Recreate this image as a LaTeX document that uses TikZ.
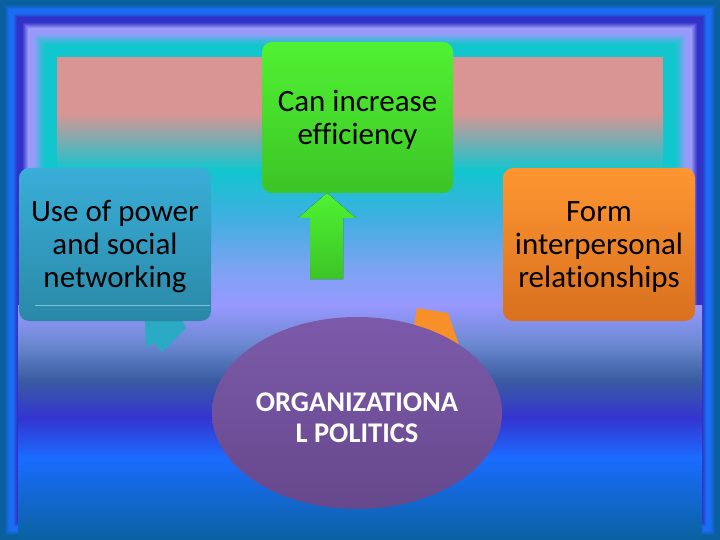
\documentclass[tikz,border=0pt]{standalone}
\usepackage{fontspec}
\setmainfont[Ligatures=NoCommon]{Carlito}
\usetikzlibrary{shapes.geometric}
\definecolor{f0}{HTML}{0A609E}
\definecolor{f1}{HTML}{1A6CF2}
\definecolor{f2}{HTML}{3232C8}
\definecolor{f3}{HTML}{9A9AFA}
\definecolor{f4}{HTML}{12C6CE}
\definecolor{pinkc}{HTML}{D99594}
\definecolor{b1}{HTML}{3CB0E0}
\definecolor{b2}{HTML}{78A4F0}
\definecolor{b3}{HTML}{9898FF}
\definecolor{b4}{HTML}{6A88D0}
\definecolor{b5}{HTML}{3A5CA0}
\definecolor{b6}{HTML}{3434D0}
\definecolor{b7}{HTML}{1A6CFF}
\definecolor{b8}{HTML}{0A62A0}
\definecolor{gtop}{HTML}{50F232}
\definecolor{gbot}{HTML}{3CC426}
\definecolor{btop}{HTML}{3AAED8}
\definecolor{bbot}{HTML}{2A88A6}
\definecolor{otop}{HTML}{FF9632}
\definecolor{obot}{HTML}{D8701E}
\definecolor{etop}{HTML}{7C5AAA}
\definecolor{ebot}{HTML}{66488C}
\definecolor{barrow}{HTML}{2AAAC4}
\definecolor{oarrow}{HTML}{F8902A}
\definecolor{bline}{HTML}{78C4DC}
\tikzset{
  rbox/.style={rounded corners=10pt, inner sep=0pt},
  boxtext/.style={inner sep=0pt, align=center,
    font=\fontsize{31}{33}\selectfont, text=black},
  coretext/.style={inner sep=0pt, align=center,
    font=\bfseries\fontsize{28.5}{31}\selectfont, text=white}
}
\begin{document}
\begin{tikzpicture}[x=1pt,y=-1pt]
\useasboundingbox (0,0) rectangle (720,540);
% frame bands
\foreach \a/\b/\ca/\cb in {0/4/f0/f0,4/9/f0/f1,9/13/f1/f1,13/17/f1/f2,17/22/f2/f2,22/28/f2/f3,28/33/f3/f3,33/44/f3/f4,44/57/f4/f4}{
  \pgfmathtruncatemacro\n{\b-\a}
  \foreach \k in {1,...,\n}{
    \pgfmathtruncatemacro\i{\a+\k-1}
    \pgfmathtruncatemacro\p{100*(\k-1)/\n}
    \fill[\cb!\p!\ca] (\i,\i) rectangle (720-\i,540-\i);
  }
}
% inner body
\fill[pinkc] (57,57) rectangle (663,114);
\fill[top color=pinkc, bottom color=f4] (57,113.5) rectangle (663,170);
\fill[top color=f4, bottom color=b1] (57,169.5) rectangle (663,215);
\fill[top color=b1, bottom color=b2] (57,214.5) rectangle (663,265);
\fill[top color=b2, bottom color=b3] (57,264.5) rectangle (663,306);
% lower body
\fill[top color=b3, bottom color=b4] (18,305) rectangle (702,345);
\fill[top color=b4, bottom color=b5] (18,344.5) rectangle (702,380);
\fill[top color=b5, bottom color=b6] (18,379.5) rectangle (702,418);
\fill[top color=b6, bottom color=b7] (18,417.5) rectangle (702,458);
\fill[top color=b7, bottom color=b8] (18,457.5) rectangle (702,540);
% block arrows
\fill[barrow] (145,316) -- (180,316) -- (186,328) -- (162,352) -- (153,343) -- (146,348) -- cycle;
\fill[oarrow] (417,308) -- (448,313) -- (460,348) -- (440,362) -- (412,336) -- cycle;
\fill[top color=gtop, bottom color=gbot] (310,279) -- (343,279) -- (343,218) -- (356,218) -- (327,193) -- (298,218) -- (310,218) -- cycle;
% nodes
\node[rbox, top color=gtop, bottom color=gbot, minimum width=191pt, minimum height=151pt] (eff) at (357.5,117.5) {};
\node[boxtext] (efft) at (357.5,120) {Can increase\\efficiency};
\node[rbox, top color=btop, bottom color=bbot, minimum width=192pt, minimum height=153pt] (pow) at (115,244.5) {};
\node[boxtext] (powt) at (115,247) {Use of power\\and social\\networking};
\node[rbox, top color=otop, bottom color=obot, minimum width=192pt, minimum height=153pt] (rel) at (599,244.5) {};
\node[boxtext] (relt) at (599,247) {Form\\interpersonal\\relationships};
\draw[bline, line width=0.8pt] (35,305) -- (210,305);
\node[ellipse, inner sep=0pt, top color=etop, bottom color=ebot, minimum width=290pt, minimum height=192pt] (org) at (357,413) {};
\node[coretext] (orgt) at (357,418) {ORGANIZATIONA\\L POLITICS};
\end{tikzpicture}
\end{document}
